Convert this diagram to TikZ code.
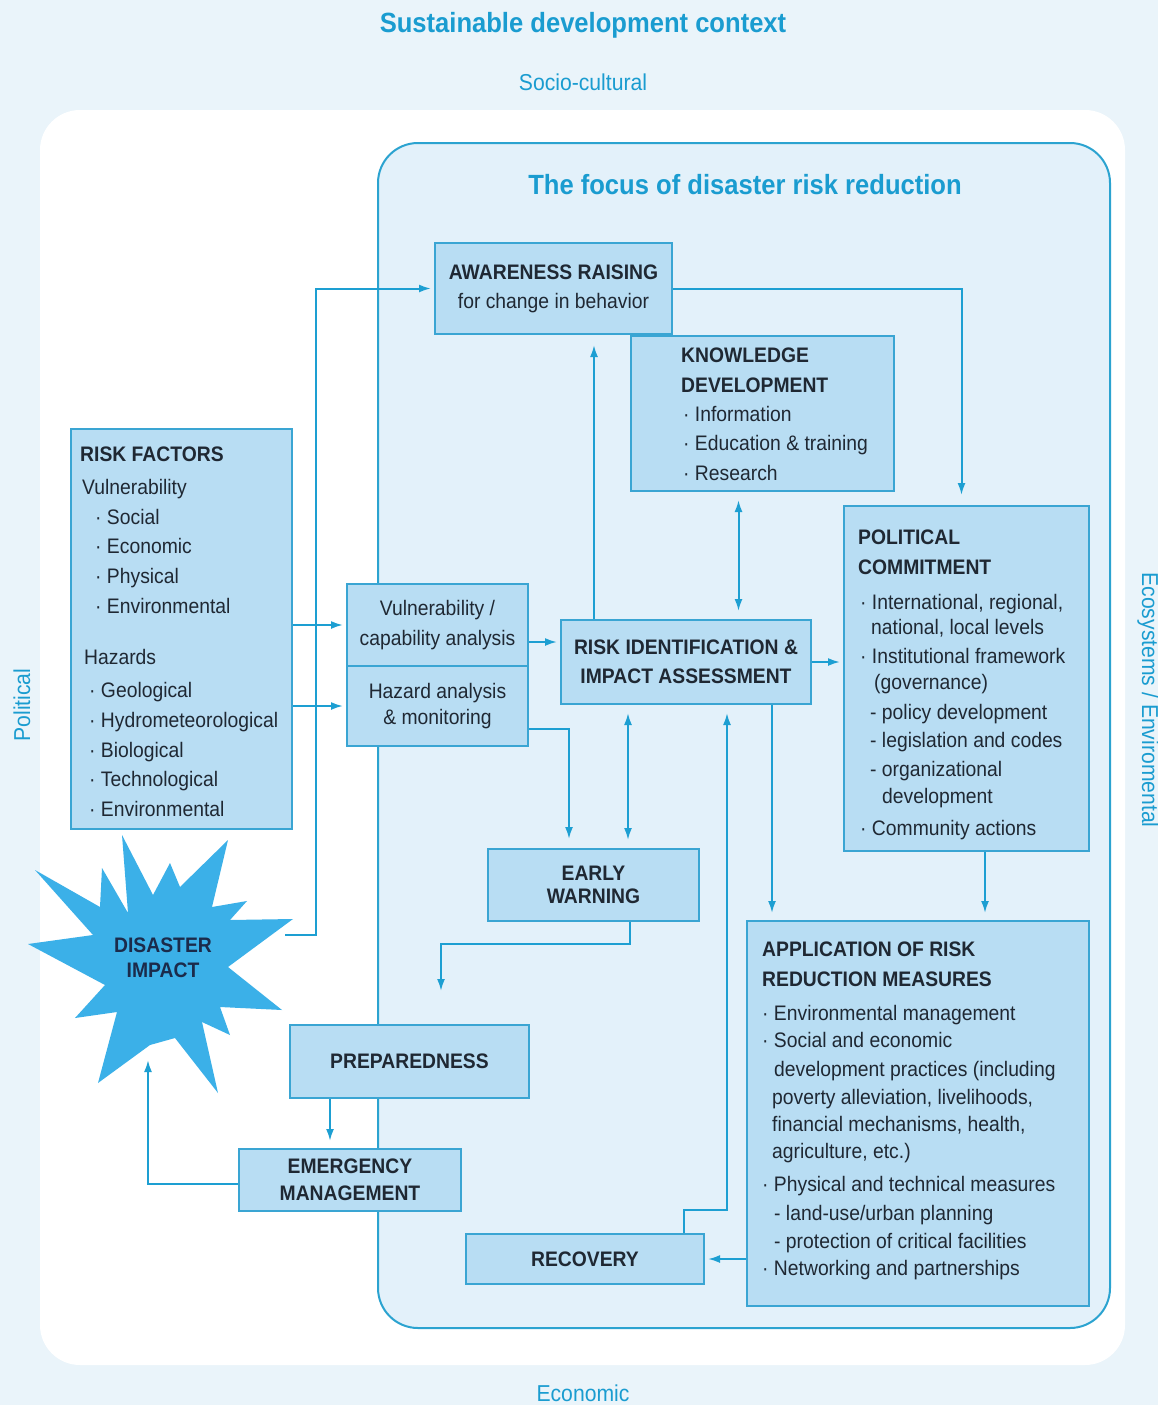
\documentclass[tikz,border=0pt]{standalone}
\usepackage{fontspec}
\setmainfont{Liberation Sans}[FakeStretch=0.92]
\usetikzlibrary{arrows.meta}
\definecolor{bgout}{HTML}{EAF4FA}
\definecolor{focusfill}{HTML}{E3F1FA}
\definecolor{focusline}{HTML}{2BA3D0}
\definecolor{boxfill}{HTML}{B8DDF3}
\definecolor{boxline}{HTML}{3AA5D3}
\definecolor{arrcol}{HTML}{1D9FD2}
\definecolor{ttlcol}{HTML}{1A9CD0}
\definecolor{starcol}{HTML}{3BB0E8}
\definecolor{txtcol}{HTML}{1F2833}
\definecolor{startxt}{HTML}{1B2B4B}
\tikzset{
  box/.style={draw=boxline,fill=boxfill,line width=2pt,inner sep=0pt,anchor=north west,
    text=txtcol,align=center,font=\fontsize{21}{29}\selectfont},
  ltxt/.style={text=txtcol,inner sep=0pt,align=left,anchor=north west,font=\fontsize{21}{28.5}\selectfont},
  side/.style={text=ttlcol,inner sep=0pt,font=\fontsize{23}{28}\selectfont},
  ttl/.style={text=ttlcol,inner sep=0pt,font=\bfseries\fontsize{27.8}{32}\selectfont},
  arr/.style={draw=arrcol,line width=2pt,-{Latex[length=12pt,width=8pt]},shorten >=3pt},
  dblarr/.style={arr,{Latex[length=12pt,width=8pt]}-{Latex[length=12pt,width=8pt]},shorten <=8pt,shorten >=8pt}
}
\begin{document}
\begin{tikzpicture}[x=1pt,y=-1pt]
    \useasboundingbox (0,0) rectangle (1158,1405);
    \fill[bgout] (0,0) rectangle (1158,1405);
    \fill[white,rounded corners=40pt] (40,110) rectangle (1125,1365);
    \draw[focusline,fill=focusfill,line width=2pt,rounded corners=40pt] (378,143) rectangle (1110,1328);

    \node[ttl] (sdc) at (583,25) {Sustainable development context};
    \node[side] (soc) at (583,82) {Socio-cultural};
    \node[side] (eco) at (583,1393) {Economic};
    \node[side,rotate=90] (pol) at (22,705) {Political};
    \node[side,rotate=-90] (env) at (1148,700) {Ecosystems / Enviromental};
    \node[ttl] (fdr) at (745,185) {The focus of disaster risk reduction};

    \fill[starcol] (122,835) -- (153,895) -- (170,863) -- (180,887) -- (228,840) -- (212,907)
      -- (247,901) -- (230,920) -- (293,919) -- (228,967) -- (282,1010) -- (220,1007)
      -- (230,1035) -- (202,1022) -- (218,1093) -- (175,1038) -- (150,1045) -- (98,1083)
      -- (117,1012) -- (75,1018) -- (105,985) -- (28,944) -- (93,935) -- (35,870)
      -- (100,907) -- (102,868) -- (128,913) -- cycle;
    \node[text=startxt,inner sep=0pt,align=center,font=\bfseries\fontsize{21}{25}\selectfont] (di) at (163,958) {DISASTER\\IMPACT};

    \node[box,minimum width=237pt,minimum height=91pt] (aw) at (434,242) {\textbf{AWARENESS RAISING}\\for change in behavior};
    \node[box,minimum width=263pt,minimum height=155pt] (kd) at (630,335) {};
    \node[box,minimum width=221pt,minimum height=400pt] (rf) at (70,428) {};
    \node[box,minimum width=181pt,minimum height=82pt] (va) at (346,583) {Vulnerability /\\[1pt]capability analysis};
    \node[box,minimum width=181pt,minimum height=80pt] (ha) at (346,665) {Hazard analysis\\[-3pt]\& monitoring};
    \node[box,minimum width=250pt,minimum height=84pt] (ri) at (560,619) {\textbf{RISK IDENTIFICATION \&}\\\textbf{IMPACT ASSESSMENT}};
    \node[box,minimum width=245pt,minimum height=345pt] (pc) at (843,505) {};
    \node[box,minimum width=211pt,minimum height=72pt] (ew) at (487,848) {\textbf{EARLY}\\[-6pt]\textbf{WARNING}};
    \node[box,minimum width=239pt,minimum height=73pt] (pr) at (289,1024) {\textbf{PREPAREDNESS}};
    \node[box,minimum width=222pt,minimum height=62pt] (em) at (238,1148) {\textbf{EMERGENCY}\\[-2pt]\textbf{MANAGEMENT}};
    \node[box,minimum width=238pt,minimum height=50pt] (rc) at (465,1233) {\textbf{RECOVERY}};
    \node[box,minimum width=342pt,minimum height=385pt] (ap) at (746,920) {};

    \node[ltxt,font=\fontsize{21}{29.7}\selectfont] (rftext) at ([shift={(10,19)}]rf.north west) {\textbf{RISK FACTORS}\\[3pt]
      \hspace*{2pt}Vulnerability\\
      \hspace*{15pt}· Social\\
      \hspace*{15pt}· Economic\\
      \hspace*{15pt}· Physical\\
      \hspace*{15pt}· Environmental\\[21pt]
      \hspace*{4pt}Hazards\\[4pt]
      \hspace*{9pt}· Geological\\
      \hspace*{9pt}· Hydrometeorological\\
      \hspace*{9pt}· Biological\\
      \hspace*{9pt}· Technological\\
      \hspace*{9pt}· Environmental};
    \node[ltxt,font=\fontsize{21}{29.3}\selectfont] (kdtext) at ([shift={(51,13)}]kd.north west) {\textbf{KNOWLEDGE}\\
      \textbf{DEVELOPMENT}\\
      \hspace*{2pt}· Information\\
      \hspace*{2pt}· Education \& training\\
      \hspace*{2pt}· Research};
    \node[ltxt] (pctext) at ([shift={(15,25)}]pc.north west) {\textbf{POLITICAL}\\[1.5pt]
      \textbf{COMMITMENT}\\[6.5pt]
      \hspace*{2pt}· International, regional,\\[-3.5pt]
      \hspace*{13pt}national, local levels\\
      \hspace*{2pt}· Institutional framework\\[-2.5pt]
      \hspace*{16pt}(governance)\\[1.5pt]
      \hspace*{12pt}- policy development\\
      \hspace*{12pt}- legislation and codes\\
      \hspace*{12pt}- organizational\\[-1.5pt]
      \hspace*{24pt}development\\[3.5pt]
      \hspace*{2pt}· Community actions};
    \node[ltxt] (aptext) at ([shift={(16,22)}]ap.north west) {\textbf{APPLICATION OF RISK}\\[1.5pt]
      \textbf{REDUCTION MEASURES}\\[5.5pt]
      · Environmental management\\[-1.5pt]
      · Social and economic\\
      \hspace*{12pt}development practices (including\\
      \hspace*{10pt}poverty alleviation, livelihoods,\\[-1.5pt]
      \hspace*{10pt}financial mechanisms, health,\\[-1.5pt]
      \hspace*{10pt}agriculture, etc.)\\[4.5pt]
      · Physical and technical measures\\
      \hspace*{12pt}- land-use/urban planning\\
      \hspace*{12pt}- protection of critical facilities\\[-1.5pt]
      · Networking and partnerships};

    \draw[arr] (rf.east |- va.west) -- (va.west);
    \draw[arr] (rf.east |- ha.west) -- (ha.west);
    \draw[arr] ([yshift=-17pt]va.east) -- ([yshift=-17pt]va.east -| ri.west);
    \draw[arr,shorten >=10pt] ([xshift=34pt]ri.north west) -- ([xshift=34pt]ri.north west |- aw.south);
    \draw[arr,shorten >=10pt] (aw.east) -| ([xshift=-5pt]pc.north);
    \draw[dblarr] ([xshift=-24pt]kd.south) -- ([xshift=-24pt]kd.south |- ri.north);
    \draw[arr] (ri.east) -- (ri.east -| pc.west);
    \draw[arr,shorten >=9pt] ([yshift=-23pt]ha.east) -| ([xshift=82pt]ew.north west);
    \draw[dblarr] ([xshift=68pt]ri.south west) -- ([xshift=68pt]ri.south west |- ew.north);
    \draw[arr,shorten >=33pt] ([xshift=143pt]ew.south west) -- ++(0,22) -| ([xshift=152pt]pr.north west);
    \draw[arr,shorten >=7pt] ([xshift=41pt]pr.south west) -- ([xshift=41pt]pr.south west |- em.north);
    \draw[arr,shorten >=0pt] ([yshift=-4pt]em.west) -| ([shift={(-15,102)}]di.center);
    \draw[arr] ([shift={(122,-23)}]di.center) -| ([xshift=-118pt]aw.west) -- (aw.west);
    \draw[arr,shorten >=7pt] ([xshift=212pt]ri.south west) -- ([xshift=212pt]ri.south west |- ap.north);
    \draw[arr,shorten >=7pt] ([xshift=142pt]pc.south west) -- ([xshift=142pt]pc.south west |- ap.north);
    \draw[arr] (ap.west |- rc.east) -- (rc.east);
    \draw[arr,shorten >=8pt] ([xshift=-21pt]rc.north east) -- ++(0,-23) -| ([xshift=167pt]ri.south west);
  \end{tikzpicture}
\end{document}
